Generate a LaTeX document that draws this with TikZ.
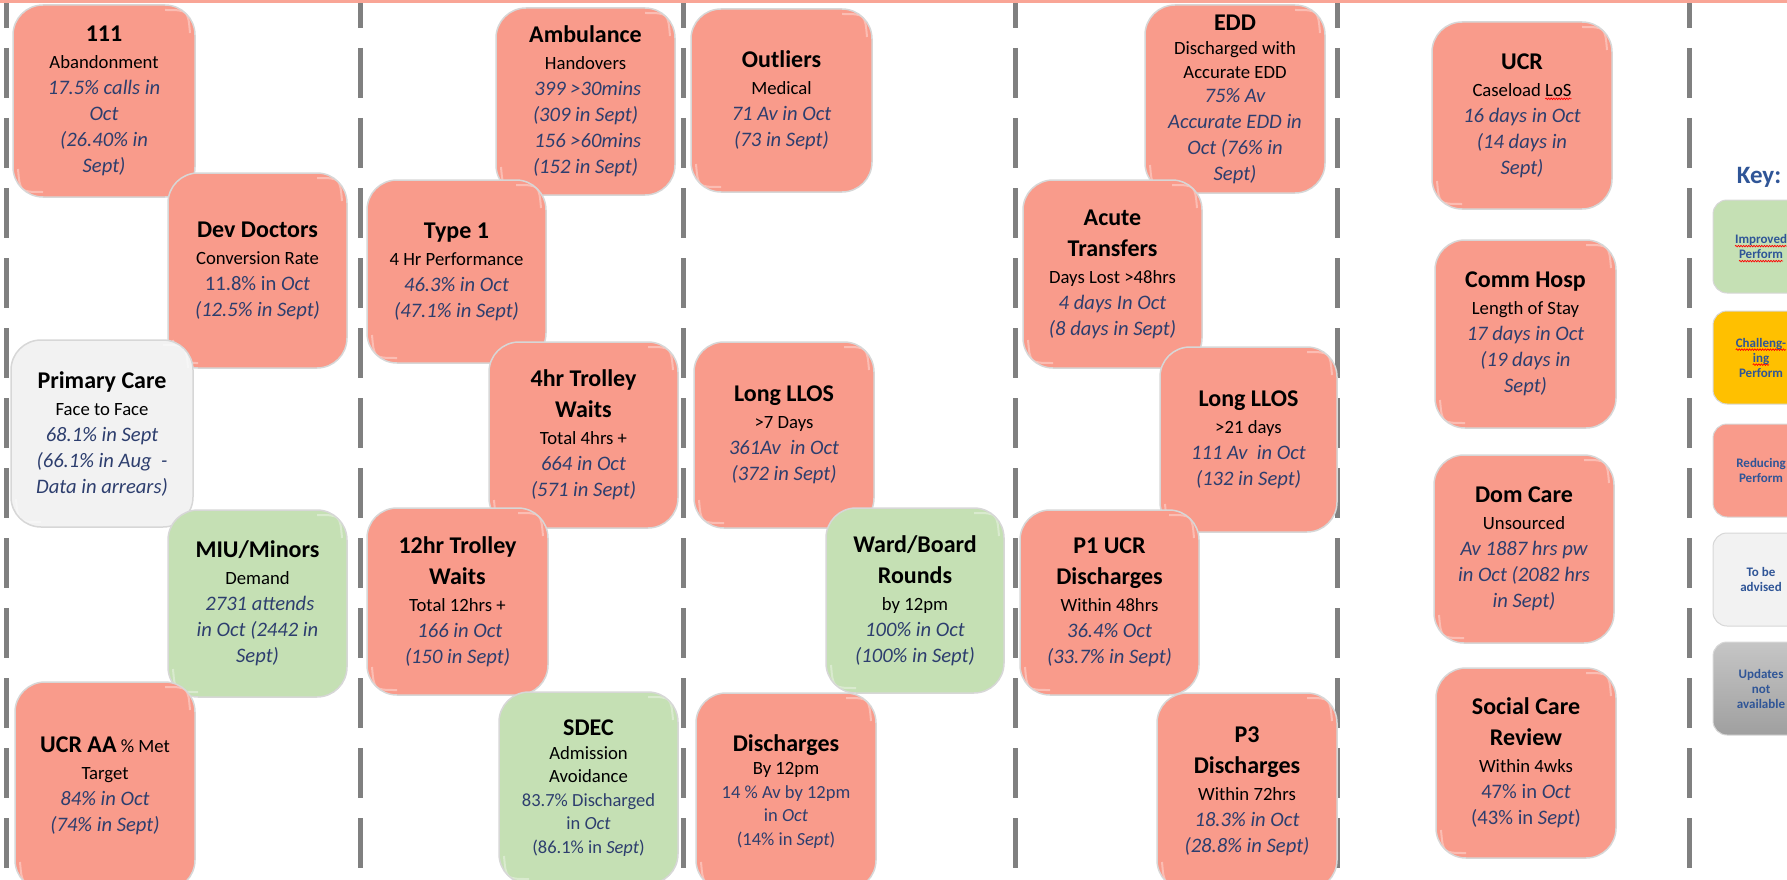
\documentclass[tikz,border=0pt]{standalone}
\usepackage{fontspec}
\setmainfont{Carlito}
\usetikzlibrary{calc,decorations.pathmorphing}
\definecolor{salmon}{RGB}{249,155,139}
\definecolor{topbar}{RGB}{249,165,150}
\definecolor{lgreen}{RGB}{197,224,180}
\definecolor{lwhite}{RGB}{242,242,242}
\definecolor{dblue}{RGB}{45,62,110}
\definecolor{kblue}{RGB}{47,85,151}
\definecolor{dashgray}{RGB}{128,128,128}
\definecolor{kyellow}{RGB}{255,192,0}
\definecolor{edgegray}{RGB}{215,215,215}
\newcommand{\Ttl}{\fontsize{24}{30}\selectfont\bfseries}
\newcommand{\Sbt}{\fontsize{18.7}{24}\selectfont}
\newcommand{\Dat}{\fontsize{20.6}{26}\selectfont\itshape\color{dblue}}
\newcommand{\Dup}{\fontsize{20.6}{26}\selectfont\color{dblue}}
\newcommand{\Dsm}{\fontsize{18.5}{24}\selectfont\color{dblue}}
\newcommand{\squig}[1]{\setbox0=\hbox{#1}\tikz[overlay,x=1pt,y=1pt,baseline=0pt]\draw[red,line width=0.7pt,sharp corners,decorate,decoration={snake,amplitude=0.8pt,segment length=2.6pt}] (0,-2.6) -- (\the\wd0,-2.6);\box0}
\tikzset{
  kpi/.style={rounded corners=30pt, draw=edgegray, line width=1.5pt, align=center,
    inner sep=0pt, font=\fontsize{20}{26}\selectfont, text=black, fill=salmon,
    path picture={
      \draw[white, opacity=0.35, line width=2pt, sharp corners]
        ($(path picture bounding box.north east)+(-30,5)$) .. controls ($(path picture bounding box.north east)+(-7,5)$) .. ($(path picture bounding box.north east)+(-5,28)$);
      \draw[white, opacity=0.35, line width=2pt, sharp corners]
        ($(path picture bounding box.south west)+(5,-28)$) .. controls ($(path picture bounding box.south west)+(7,-5)$) .. ($(path picture bounding box.south west)+(30,-5)$);
    }},
  kpismall/.style={kpi, font=\fontsize{18.5}{23.5}\selectfont},
  keybox/.style={rounded corners=14pt, draw=edgegray, line width=1pt, align=center,
    inner sep=0pt, minimum width=96pt, minimum height=93pt,
    font=\fontsize{13}{15}\selectfont\bfseries, text=kblue},
  sep/.style={draw=dashgray, line width=5pt, dash pattern=on 50pt off 20pt}
}
\begin{document}
\begin{tikzpicture}[x=1pt,y=-1pt]
\useasboundingbox (0,0) rectangle (1787,880);
\clip (0,0) rectangle (1787,880);
% column separators
\foreach \xx in {6,360,683,1015,1337,1689}{
  \draw[sep] (\xx,-22) -- (\xx,900);
}
\fill[topbar] (0,0) rectangle (1787,3.5);

% column 1
\node[kpi, minimum width=182pt, minimum height=192pt] (n111) at (104,101)
 {\Ttl 111\\[1pt] \Sbt Abandonment\\ \Dat 17.5\% calls in\\ \Dat Oct\\ \Dat (26.40\% in\\ \Dat Sept)};
\node[kpi, minimum width=179pt, minimum height=195pt] (devdoc) at (257.5,270.5)
 {\Ttl Dev Doctors\\[1pt] \Sbt Conversion Rate\\ \Dup 11.8\% in \textit{Oct}\\ \Dat (12.5\% in Sept)};
\node[kpi, fill=lwhite, minimum width=182pt, minimum height=187pt] (primary) at (102,433.5)
 {\Ttl Primary Care\\[1pt] \Sbt Face to Face\\ \Dat 68.1\% in Sept\\ \Dat (66.1\% in Aug~~-\\ \Dat Data in arrears)};
\node[kpi, fill=lgreen, minimum width=179pt, minimum height=187pt] (miu) at (257.5,603.5)
 {\Ttl MIU/Minors\\[1pt] \Sbt Demand\\ \Dat ~2731 attends\\ \Dat in Oct (2442 in\\ \Dat Sept)};
\node[kpi, minimum width=180pt, minimum height=208pt] (ucraa) at (105,786)
 {\Ttl UCR AA{\Sbt\mdseries\ \% Met}\\[1pt] \Sbt Target\\ \Dat 84\% in Oct\\ \Dat (74\% in Sept)};

% column 2
\node[kpi, minimum width=179pt, minimum height=187pt] (amb) at (585.5,101.5)
 {\Ttl Ambulance\\[1pt] \Sbt Handovers\\ \Dat ~399 >30mins\\ \Dat (309 in Sept)\\ \Dat ~156 >60mins\\ \Dat (152 in Sept)};
\node[kpi, minimum width=179pt, minimum height=183pt] (type1) at (456.5,271.5)
 {\Ttl Type 1\\[1pt] \Sbt 4 Hr Performance\\ \Dat 46.3\% in Oct\\ \Dat (47.1\% in Sept)};
\node[kpi, minimum width=189pt, minimum height=186pt] (trolley4) at (583.5,435)
 {\Ttl 4hr Trolley\\[5pt] \Ttl Waits\\[1pt] \Sbt Total 4hrs +\\ \Dat 664 in Oct\\ \Dat (571 in Sept)};
\node[kpi, minimum width=181pt, minimum height=187pt] (trolley12) at (457.5,601.5)
 {\Ttl 12hr Trolley\\[5pt] \Ttl Waits\\[1pt] \Sbt Total 12hrs +\\ \Dat ~166 in Oct\\ \Dat (150 in Sept)};
\node[kpismall, fill=lgreen, minimum width=179pt, minimum height=192pt] (sdec) at (588.5,788)
 {\Ttl SDEC\\ \Sbt Admission\\ \Sbt Avoidance\\ \Dsm 83.7\% Discharged\\ \Dsm in \textit{Oct}\\ \Dsm (86.1\% in \textit{Sept})};

% column 3
\node[kpi, minimum width=181pt, minimum height=183pt] (outliers) at (781.5,100.5)
 {\Ttl Outliers\\[1pt] \Sbt Medical\\ \Dat 71 Av in Oct\\ \Dat (73 in Sept)};
\node[kpi, minimum width=180pt, minimum height=186pt] (llos7) at (784,435)
 {\Ttl Long LLOS\\[1pt] \Sbt >7 Days\\ \Dat 361Av~ in Oct\\ \Dat (372 in Sept)};
\node[kpi, fill=lgreen, minimum width=178pt, minimum height=185pt] (ward) at (915,600.5)
 {\Ttl Ward/Board\\[5pt] \Ttl Rounds\\[1pt] \Sbt by 12pm\\ \Dat 100\% in Oct\\ \Dat (100\% in Sept)};
\node[kpismall, minimum width=180pt, minimum height=197pt] (disch) at (786,791.5)
 {\Ttl Discharges\\ \Sbt By 12pm\\ \Dsm 14 \% Av by 12pm\\ \Dsm in \textit{Oct}\\ \Dsm (14\% in \textit{Sept})};

% column 4
\node[kpi, minimum width=180pt, minimum height=188pt] (edd) at (1235,99)
 {\Ttl EDD\\[-2pt] \Sbt Discharged with\\[-2pt] \Sbt Accurate EDD\\[-2pt] \Dat 75\% Av\\ \Dat Accurate EDD in\\ \Dat Oct (76\% in\\ \Dat Sept)};
\node[kpi, minimum width=179pt, minimum height=188pt] (acute) at (1112.5,274)
 {\Ttl Acute\\[5pt] \Ttl Transfers\\[1pt] \Sbt Days Lost >48hrs\\ \Dat 4 days In Oct\\ \Dat (8 days in Sept)};
\node[kpi, minimum width=177pt, minimum height=185pt] (llos21) at (1248.5,439.5)
 {\Ttl Long LLOS\\[1pt] \Sbt >21 days\\ \Dat 111 Av~ in Oct\\ \Dat (132 in Sept)};
\node[kpi, minimum width=179pt, minimum height=185pt] (p1) at (1109.5,602.5)
 {\Ttl P1 UCR\\[5pt] \Ttl Discharges\\[1pt] \Sbt Within 48hrs\\ \Dat 36.4\% Oct\\ \Dat (33.7\% in Sept)};
\node[kpi, minimum width=180pt, minimum height=197pt] (p3) at (1247,791.5)
 {\Ttl P3\\[5pt] \Ttl Discharges\\[1pt] \Sbt Within 72hrs\\ \Dat 18.3\% in Oct\\ \Dat (28.8\% in Sept)};

% column 5
\node[kpi, minimum width=180pt, minimum height=187pt] (ucr) at (1522,115.5)
 {\Ttl UCR\\[1pt] \Sbt Caseload \squig{LoS}\\ \Dat 16 days in Oct\\ \Dat (14 days in\\ \Dat Sept)};
\node[kpi, minimum width=181pt, minimum height=188pt] (comm) at (1525.5,334)
 {\Ttl Comm Hosp\\[1pt] \Sbt Length of Stay\\ \Dat 17 days in Oct\\ \Dat (19 days in\\ \Dat Sept)};
\node[kpi, minimum width=180pt, minimum height=188pt] (dom) at (1524,549)
 {\Ttl Dom Care\\[1pt] \Sbt Unsourced\\ \Dat Av 1887 hrs pw\\ \Dat in Oct (2082 hrs\\ \Dat in Sept)};
\node[kpi, minimum width=180pt, minimum height=190pt] (social) at (1526,763)
 {\Ttl Social Care\\[5pt] \Ttl Review\\[1pt] \Sbt Within 4wks\\ \Dup 47\% in \textit{Oct}\\ \Dup (43\% in \textit{Sept})};

% key
\node[font=\fontsize{25}{30}\selectfont\bfseries, text=kblue] (key) at (1759,177) {Key:};
\node[keybox, fill=lgreen] (kimp) at (1761,246.5) {\squig{Improved}\\\squig{Perform}};
\node[keybox, fill=kyellow] (kchal) at (1761,357.5) {\squig{Challeng-}\\\squig{ing}\\Perform};
\node[keybox, fill=salmon] (kred) at (1761,470.5) {Reducing\\Perform};
\node[keybox, fill=lwhite] (ktba) at (1761,579.5) {To be\\advised};
\node[keybox, top color=gray!45, bottom color=gray!75, draw=edgegray] (kna) at (1761,688.5) {Updates\\not\\available};
\end{tikzpicture}
\end{document}
